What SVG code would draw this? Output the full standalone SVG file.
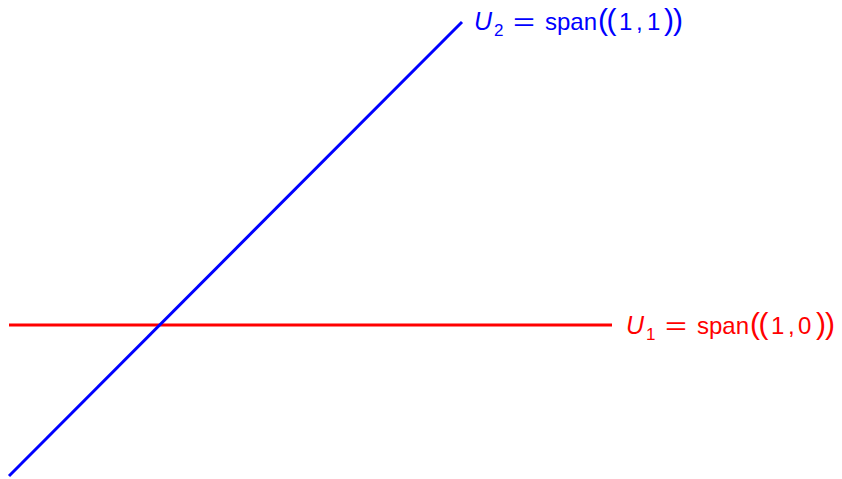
<svg xmlns="http://www.w3.org/2000/svg" width="842" height="479" viewBox="0 0 842 479">
<style>
.lbl{font-family:"Liberation Sans",Arial,sans-serif;font-size:24px}
.it{font-style:italic}
.sub{font-size:17px}
.par{font-size:30px}
</style>
<rect width="842" height="479" fill="#fff"/>
<g id="connectors">
<line id="u1-line" x1="9" y1="325" x2="612" y2="325" stroke="#ff0000" stroke-width="3"/>
<line id="u2-line" x1="9" y1="476" x2="462" y2="22" stroke="#0000ff" stroke-width="3"/>
</g>
<g id="u2-label" fill="#0000ff">
<text class="lbl" y="30"><tspan class="it" x="474" font-size="25">U</tspan><tspan class="sub" x="494" y="36">2</tspan><tspan x="545" y="30">span</tspan><tspan class="par" x="598 606.5">((</tspan><tspan x="619">1</tspan><tspan x="636">,</tspan><tspan x="647">1</tspan><tspan class="par" x="664 673">))</tspan></text>
<text class="lbl" x="513" y="30" textLength="22" lengthAdjust="spacingAndGlyphs">=</text>
</g>
<g id="u1-label" fill="#ff0000">
<text class="lbl" y="334"><tspan class="it" x="626" font-size="25">U</tspan><tspan class="sub" x="646" y="340">1</tspan><tspan x="697" y="334">span</tspan><tspan class="par" x="750 758.5">((</tspan><tspan x="771">1</tspan><tspan x="788">,</tspan><tspan x="798">0</tspan><tspan class="par" x="816 825">))</tspan></text>
<text class="lbl" x="665" y="334" textLength="22" lengthAdjust="spacingAndGlyphs">=</text>
</g>
</svg>
